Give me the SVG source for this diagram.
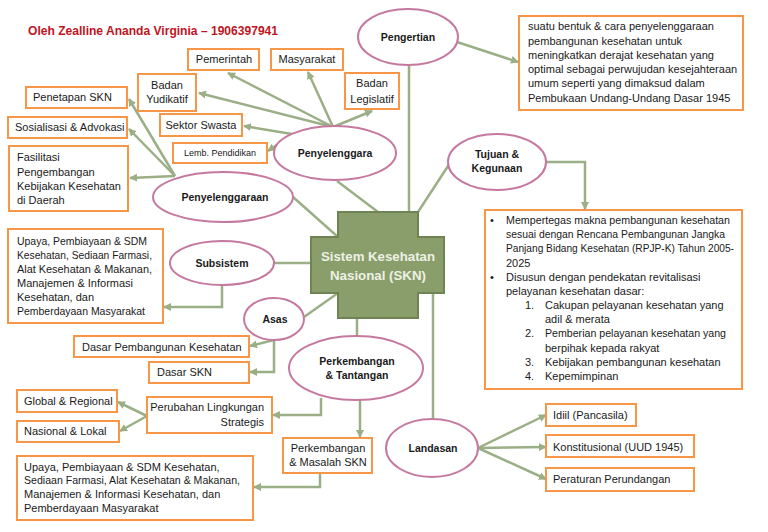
<svg xmlns="http://www.w3.org/2000/svg" width="768" height="532" viewBox="0 0 768 532">
<defs>
<marker id="arr" markerUnits="userSpaceOnUse" markerWidth="9" markerHeight="9" refX="7" refY="4" orient="auto">
<path d="M0,0 L8,4 L0,8 Z" fill="#9BAF86"/>
</marker>
<style>
.c{fill:none;stroke:#9BAF86;stroke-width:2.5}
.a{marker-end:url(#arr)}
.b{fill:#fff;stroke:#F79646;stroke-width:2}
.e{fill:#fff;stroke:#C5799F;stroke-width:2}
text{font-family:"Liberation Sans",Arial,sans-serif;font-size:11px;fill:#1a1a1a}
.t{font-size:10.5px;font-weight:bold;text-anchor:middle}
.m{text-anchor:middle}
.r{text-anchor:end}
</style>
</defs>
<rect width="768" height="532" fill="#fff"/>
<text x="28" y="35" style="font-size:12.5px;font-weight:bold;fill:#C0141E" textLength="250" lengthAdjust="spacingAndGlyphs">Oleh Zealline Ananda Virginia – 1906397941</text>
<g id="connectors">
<line class="c a" x1="333" y1="127" x2="228" y2="73"/>
<line class="c a" x1="333" y1="127" x2="308" y2="72"/>
<line class="c a" x1="333" y1="127" x2="372" y2="111"/>
<line class="c a" x1="333" y1="127" x2="199" y2="93"/>
<line class="c a" x1="292" y1="134" x2="244" y2="126"/>
<line class="c a" x1="290" y1="136" x2="268" y2="151"/>
<line class="c a" x1="175" y1="176" x2="129" y2="99"/>
<line class="c a" x1="175" y1="176" x2="129" y2="129"/>
<line class="c a" x1="175" y1="176" x2="130" y2="178"/>
<line class="c" x1="293" y1="197" x2="338" y2="237"/>
<line class="c" x1="337" y1="181" x2="378" y2="212"/>
<line class="c" x1="409" y1="65" x2="409" y2="212"/>
<line class="c a" x1="457" y1="42" x2="518" y2="62"/>
<line class="c" x1="418" y1="212" x2="450" y2="163"/>
<polyline class="c a" points="546,162 585,162 585,209"/>
<line class="c" x1="274" y1="263" x2="311" y2="263"/>
<polyline class="c a" points="222,285 222,307 164,307"/>
<line class="c" x1="304" y1="317" x2="338" y2="293"/>
<line class="c a" x1="274" y1="340" x2="250" y2="346"/>
<polyline class="c a" points="274,340 274,372 250,372"/>
<line class="c" x1="357" y1="318" x2="357" y2="337"/>
<line class="c" x1="433" y1="293" x2="433" y2="419"/>
<polyline class="c a" points="321,398 321,415 273,415"/>
<line class="c a" x1="360" y1="400" x2="360" y2="437"/>
<polyline class="c a" points="320,473 320,487 254,487"/>
<line class="c a" x1="147" y1="416" x2="118" y2="402"/>
<line class="c a" x1="147" y1="416" x2="120" y2="431"/>
<line class="c a" x1="478" y1="448" x2="546" y2="415"/>
<line class="c a" x1="478" y1="448" x2="546" y2="447"/>
<line class="c a" x1="478" y1="448" x2="546" y2="479"/>
</g>
<g id="skn">
<path d="M338,212 H418 V237 H444 V293 H418 V318 H338 V293 H311 V237 H338 Z" fill="#8A9E6C" stroke="#6E8452" stroke-width="2"/>
<text x="378" y="261" style="font-size:13px;font-weight:bold;fill:#EDF1E4;text-anchor:middle" textLength="114" lengthAdjust="spacingAndGlyphs">Sistem Kesehatan</text>
<text x="378" y="280" style="font-size:13px;font-weight:bold;fill:#EDF1E4;text-anchor:middle" textLength="96" lengthAdjust="spacingAndGlyphs">Nasional (SKN)</text>
</g>
<g id="pengertian"><ellipse class="e" cx="408" cy="37" rx="50" ry="28"/><text class="t" x="408" y="41">Pengertian</text></g>
<g id="definisi"><rect class="b" x="519" y="16" width="224" height="94"/>
<text x="528" y="30">suatu bentuk &amp; cara penyelenggaraan</text>
<text x="528" y="45">pembangunan kesehatan untuk</text>
<text x="528" y="59">meningkatkan derajat kesehatan yang</text>
<text x="528" y="73">optimal sebagai perwujudan kesejahteraan</text>
<text x="528" y="87">umum seperti yang dimaksud dalam</text>
<text x="528" y="102">Pembukaan Undang-Undang Dasar 1945</text>
</g>
<g id="penyelenggara"><ellipse class="e" cx="335" cy="153" rx="61" ry="27"/><text class="t" x="335" y="157">Penyelenggara</text></g>
<g id="pemerintah"><rect class="b" x="188" y="49" width="71" height="21"/><text class="m" x="224" y="63">Pemerintah</text></g>
<g id="masyarakat"><rect class="b" x="271" y="49" width="72" height="21"/><text class="m" x="307" y="63">Masyarakat</text></g>
<g id="yudikatif"><rect class="b" x="138" y="74" width="58" height="37"/><text class="m" x="167" y="89">Badan</text><text class="m" x="167" y="103">Yudikatif</text></g>
<g id="legislatif"><rect class="b" x="345" y="73" width="54" height="36"/><text class="m" x="372" y="87">Badan</text><text class="m" x="372" y="103">Legislatif</text></g>
<g id="swasta"><rect class="b" x="160" y="114" width="82" height="22"/><text class="m" x="201" y="129">Sektor Swasta</text></g>
<g id="pendidikan"><rect class="b" x="173" y="143" width="94" height="20"/><text class="m" x="220" y="156" style="font-size:9px">Lemb. Pendidikan</text></g>
<g id="penyelenggaraan"><ellipse class="e" cx="223" cy="197" rx="70" ry="25"/><text class="t" x="225" y="201">Penyelenggaraan</text></g>
<g id="penetapan"><rect class="b" x="26" y="87" width="101" height="21"/><text x="33" y="101">Penetapan SKN</text></g>
<g id="sosialisasi"><rect class="b" x="8" y="117" width="119" height="21"/><text x="15" y="131">Sosialisasi &amp; Advokasi</text></g>
<g id="fasilitasi"><rect class="b" x="9" y="146" width="119" height="65"/>
<text x="17" y="161">Fasilitasi</text><text x="17" y="176">Pengembangan</text><text x="17" y="190">Kebijakan Kesehatan</text><text x="17" y="204">di Daerah</text></g>
<g id="tujuan"><ellipse class="e" cx="497" cy="162" rx="49" ry="28"/><text class="t" x="497" y="158">Tujuan &amp;</text><text class="t" x="497" y="172">Kegunaan</text></g>
<g id="tujuan-isi"><rect class="b" x="485" y="210" width="257" height="179"/>
<text x="490" y="224">•</text><text x="506" y="224" textLength="224" lengthAdjust="spacingAndGlyphs">Mempertegas makna pembangunan kesehatan</text>
<text x="506" y="238" textLength="219" lengthAdjust="spacingAndGlyphs">sesuai dengan Rencana Pembangunan Jangka</text>
<text x="506" y="252" textLength="228" lengthAdjust="spacingAndGlyphs">Panjang Bidang Kesehatan (RPJP-K) Tahun 2005-</text>
<text x="506" y="267">2025</text>
<text x="490" y="281">•</text><text x="506" y="281">Disusun dengan pendekatan revitalisasi</text>
<text x="506" y="295">pelayanan kesehatan dasar:</text>
<text x="525" y="309">1.</text><text x="545" y="309">Cakupan pelayanan kesehatan yang</text>
<text x="545" y="323">adil &amp; merata</text>
<text x="525" y="337">2.</text><text x="545" y="337" textLength="181" lengthAdjust="spacingAndGlyphs">Pemberian pelayanan kesehatan yang</text>
<text x="545" y="352">berpihak kepada rakyat</text>
<text x="525" y="366">3.</text><text x="545" y="366">Kebijakan pembangunan kesehatan</text>
<text x="525" y="380">4.</text><text x="545" y="380">Kepemimpinan</text>
</g>
<g id="subsistem"><ellipse class="e" cx="222" cy="263" rx="52" ry="22"/><text class="t" x="222" y="267">Subsistem</text></g>
<g id="subsistem-isi"><rect class="b" x="8" y="229" width="155" height="94"/>
<text x="17" y="245" textLength="130" lengthAdjust="spacingAndGlyphs">Upaya, Pembiayaan &amp; SDM</text>
<text x="17" y="259" textLength="135" lengthAdjust="spacingAndGlyphs">Kesehatan, Sediaan Farmasi,</text>
<text x="17" y="273" textLength="135" lengthAdjust="spacingAndGlyphs">Alat Kesehatan &amp; Makanan,</text>
<text x="17" y="287" textLength="116" lengthAdjust="spacingAndGlyphs">Manajemen &amp; Informasi</text>
<text x="17" y="301">Kesehatan, dan</text>
<text x="17" y="315" textLength="128" lengthAdjust="spacingAndGlyphs">Pemberdayaan Masyarakat</text>
</g>
<g id="asas"><ellipse class="e" cx="274" cy="319" rx="30" ry="21"/><text class="t" x="275" y="323">Asas</text></g>
<g id="dasar-pembangunan"><rect class="b" x="74" y="336" width="175" height="21"/><text x="82" y="351">Dasar Pembangunan Kesehatan</text></g>
<g id="dasar-skn"><rect class="b" x="149" y="362" width="100" height="21"/><text x="157" y="376">Dasar SKN</text></g>
<g id="perkembangan"><ellipse class="e" cx="356" cy="368" rx="67" ry="32"/><text class="t" x="357" y="365">Perkembangan</text><text class="t" x="357" y="379">&amp; Tantangan</text></g>
<g id="perubahan"><rect class="b" x="147" y="397" width="125" height="36"/><text class="r" x="264" y="411">Perubahan Lingkungan</text><text class="r" x="264" y="426">Strategis</text></g>
<g id="global"><rect class="b" x="17" y="390" width="100" height="22"/><text x="24" y="405">Global &amp; Regional</text></g>
<g id="nasional"><rect class="b" x="17" y="421" width="102" height="21"/><text x="24" y="435">Nasional &amp; Lokal</text></g>
<g id="masalah"><rect class="b" x="283" y="438" width="89" height="35"/><text class="m" x="328" y="452">Perkembangan</text><text class="m" x="328" y="466">&amp; Masalah SKN</text></g>
<g id="masalah-isi"><rect class="b" x="17" y="456" width="236" height="64"/>
<text x="24" y="471">Upaya, Pembiayaan &amp; SDM Kesehatan,</text>
<text x="24" y="484" textLength="216" lengthAdjust="spacingAndGlyphs">Sediaan Farmasi, Alat Kesehatan &amp; Makanan,</text>
<text x="24" y="498">Manajemen &amp; Informasi Kesehatan, dan</text>
<text x="24" y="512">Pemberdayaan Masyarakat</text>
</g>
<g id="landasan"><ellipse class="e" cx="432" cy="448" rx="46" ry="29"/><text class="t" x="433" y="452">Landasan</text></g>
<g id="idiil"><rect class="b" x="546" y="404" width="90" height="22"/><text x="553" y="419">Idiil (Pancasila)</text></g>
<g id="konstitusional"><rect class="b" x="546" y="435" width="148" height="22"/><text x="553" y="451">Konstitusional (UUD 1945)</text></g>
<g id="peraturan"><rect class="b" x="546" y="468" width="148" height="23"/><text x="553" y="483">Peraturan Perundangan</text></g>
</svg>
